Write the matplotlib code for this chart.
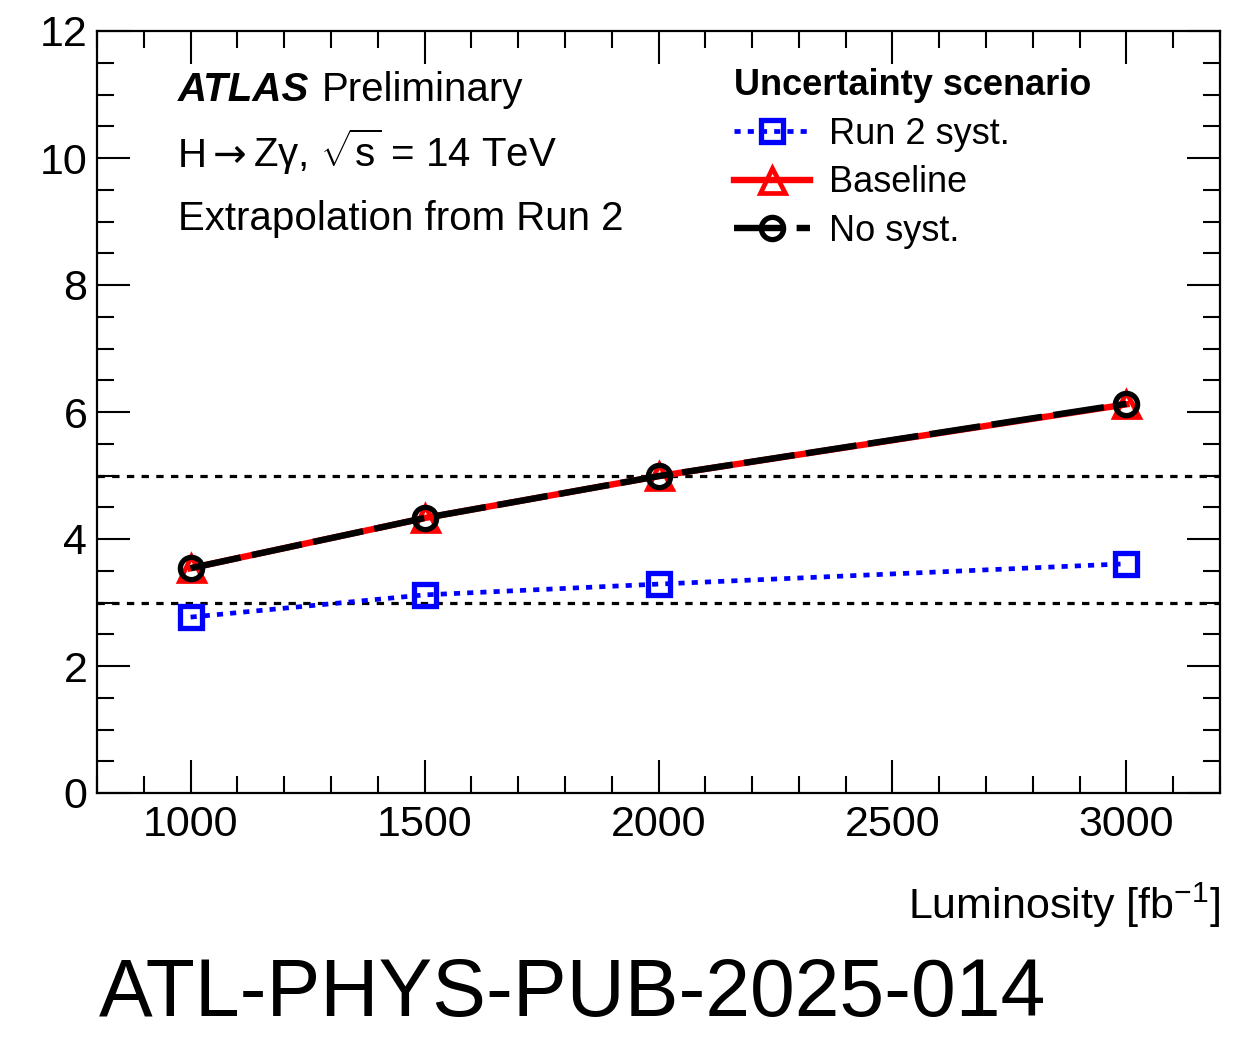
import matplotlib
matplotlib.use("Agg")
import matplotlib.pyplot as plt
from matplotlib.ticker import MultipleLocator
from matplotlib.transforms import blended_transform_factory, IdentityTransform

plt.rcParams["font.family"] = ["Liberation Sans", "DejaVu Sans"]
plt.rcParams["mathtext.fontset"] = "custom"
plt.rcParams["mathtext.rm"] = "Liberation Sans"
plt.rcParams["mathtext.it"] = "Liberation Sans:italic"
plt.rcParams["mathtext.bf"] = "Liberation Sans:bold"

# significance vs integrated luminosity
lumi = [1000, 1500, 2000, 3000]
run2_syst = [2.77, 3.12, 3.29, 3.61]
baseline = [3.54, 4.33, 4.99, 6.12]
no_syst = [3.54, 4.33, 4.99, 6.13]
ref_lines = [3, 5]

fig = plt.figure(figsize=(12.55, 10.37), dpi=100)
ax = fig.add_axes([97 / 1255, 1 - 793 / 1037, (1220 - 97) / 1255, (793 - 31) / 1037])

for y in ref_lines:
    ax.axhline(y, color="black", lw=2.3, dashes=(2.3, 2.3), zorder=1)

ax.plot(lumi, run2_syst, color="#0000ff", lw=3.4, dashes=(1.3, 1.5),
        marker="s", ms=16, mew=3.8, mfc="none", mec="#0000ff",
        label="Run 2 syst.", zorder=3)
ax.plot(lumi, baseline, color="#ff0000", lw=4.6, marker="^", ms=18, mew=3.4,
        mfc="none", mec="#ff0000", label="Baseline", zorder=4)
ax.plot(lumi, no_syst, color="black", lw=4.6, dashes=(8, 1.8), marker="o",
        ms=16, mew=3.8, mfc="none", mec="black", label="No syst.", zorder=5)

ax.set_xlim(800, 3200)
ax.set_ylim(0, 12)
ax.xaxis.set_major_locator(MultipleLocator(500))
ax.xaxis.set_minor_locator(MultipleLocator(100))
ax.yaxis.set_major_locator(MultipleLocator(2))
ax.yaxis.set_minor_locator(MultipleLocator(0.5))
ax.tick_params(which="both", direction="in", top=True, right=True, width=1.5,
               labelsize=31, color="black")
ax.tick_params(which="major", length=24)
ax.tick_params(which="minor", length=12)
ax.tick_params(axis="x", pad=9)
ax.tick_params(axis="y", pad=7)
for s in ax.spines.values():
    s.set_linewidth(1.6)

# labels, pieces chained left to right in pixel offsets
pix_x = blended_transform_factory(IdentityTransform(), ax.transAxes)


def after(prev, y, s, gap, **kw):
    fig.canvas.draw()
    x = prev.get_window_extent().x1 + gap
    return ax.text(x, y, s, transform=pix_x, fontsize=29, va="baseline", **kw)


atlas = ax.text(0.072, 0.908, "ATLAS", transform=ax.transAxes, fontsize=29,
                fontweight="bold", fontstyle="italic", va="baseline")
after(atlas, 0.908, "Preliminary", 13)

h = ax.text(0.072, 0.8215, "H", transform=ax.transAxes, fontsize=29,
            va="baseline")
arrow = after(h, 0.8215, "→", 6, family="DejaVu Sans")
after(arrow, 0.8215, r"Zγ, $\sqrt{\mathrm{s}}$ = 14 TeV", 6)

ax.text(0.072, 0.739, "Extrapolation from Run 2", transform=ax.transAxes,
        fontsize=29, va="baseline")

ax.text(1.0, -0.165, r"Luminosity [fb$^{-1}$]", transform=ax.transAxes,
        fontsize=31, ha="right", va="baseline")
fig.text(99 / 1255, 1 - 1016 / 1037, "ATL-PHYS-PUB-2025-014", fontsize=58,
         va="baseline")

leg = ax.legend(loc="upper left", bbox_to_anchor=(0.567, 0.9515), frameon=False,
                title="Uncertainty scenario", fontsize=26,
                title_fontproperties={"weight": "bold", "size": 26},
                handlelength=2.1, handletextpad=0.55, labelspacing=0.38,
                borderaxespad=0, borderpad=0)
leg._legend_box.align = "left"

fig.savefig("out.png", dpi=100)
